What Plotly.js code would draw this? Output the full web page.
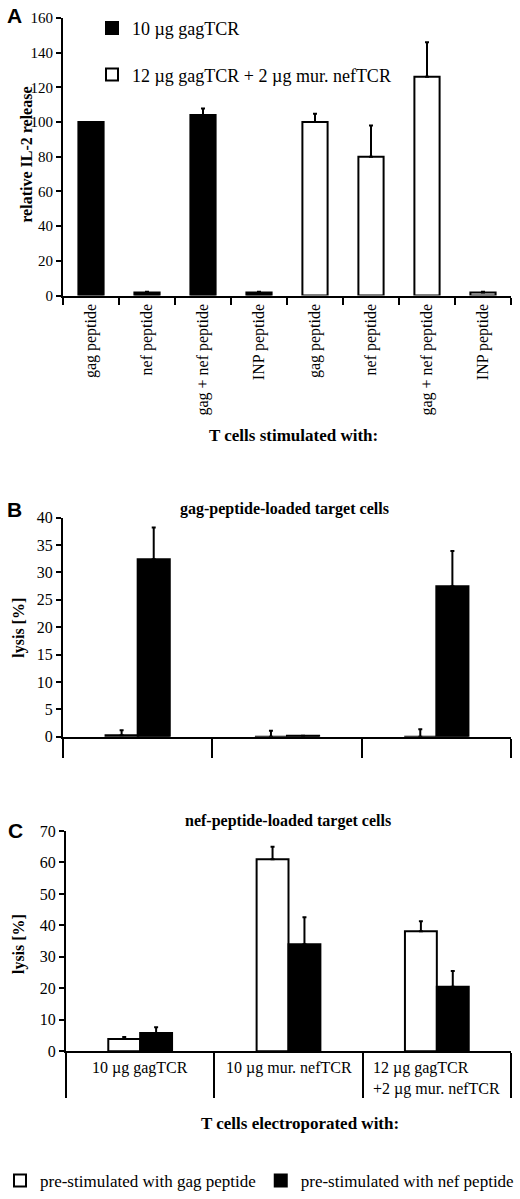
<!DOCTYPE html>
<html>
<head>
<meta charset="utf-8">
<script src="https://cdn.plot.ly/plotly-3.0.1.min.js"></script>
<style>body{margin:0;background:#fff}</style>
</head>
<body>
<div id="chart" style="width:520px;height:1199px"></div>
<script>
/** @type {typeof import("plotly.js-dist-min")} */
const Plotly = window.Plotly;

// panel A: IL-2 release
const stimLabels = ["gag peptide", "nef peptide", "gag + nef peptide", "INP peptide",
                    "gag peptide", "nef peptide", "gag + nef peptide", "INP peptide"];
const il2Gag = [100, 1.7, 104, 1.8];
const il2GagErr = [0, 0.4, 3.7, 0.4];
const il2Dual = [100, 80, 126, 1.8];
const il2DualErr = [4.7, 18, 20, 0.4];

// panels B and C: lysis
const tcrGroups = ["10 µg gagTCR", "10 µg mur. nefTCR", "12 µg gagTCR<br>+2 µg mur. nefTCR"];
const gagLysisGagStim = [0.3, 0, 0];
const gagLysisGagStimErr = [0.9, 1.1, 1.4];
const gagLysisNefStim = [32.4, 0.2, 27.5];
const gagLysisNefStimErr = [5.8, 0, 6.4];
const nefLysisGagStim = [3.9, 61, 38.1];
const nefLysisGagStimErr = [0.6, 4, 3.2];
const nefLysisNefStim = [5.8, 34, 20.5];
const nefLysisNefStimErr = [1.8, 8.6, 5];

const W = 520, H = 1199;
const px = x => x / W;
const py = y => 1 - y / H;
const serif = "Liberation Serif";

const stimPos = stimLabels.map((_, i) => i);
const groupPos = tcrGroups.map((_, i) => i);

function errUp(arr) {
    return {
        type: "data", symmetric: false, array: arr,
        arrayminus: arr.map(() => 0),
        color: "black", thickness: 2, width: 2
    };
}

const black = { color: "black", line: { color: "black", width: 2 } };
const white = { color: "white", line: { color: "black", width: 2 } };

const traces = [
    {
        type: "bar", name: "10 µg gagTCR", x: stimPos.slice(0, 4), y: il2Gag,
        error_y: errUp(il2GagErr), marker: black, width: 0.45,
        xaxis: "x", yaxis: "y", offsetgroup: "a", legendgroup: "a1"
    },
    {
        type: "bar", name: "12 µg gagTCR + 2 µg mur. nefTCR", x: stimPos.slice(4), y: il2Dual,
        error_y: errUp(il2DualErr), marker: white, width: 0.45,
        xaxis: "x", yaxis: "y", offsetgroup: "a", legendgroup: "a2"
    },
    {
        type: "bar", name: "pre-stimulated with gag peptide", x: groupPos, y: gagLysisGagStim,
        error_y: errUp(gagLysisGagStimErr), marker: white,
        xaxis: "x2", yaxis: "y2", showlegend: false
    },
    {
        type: "bar", name: "pre-stimulated with nef peptide", x: groupPos, y: gagLysisNefStim,
        error_y: errUp(gagLysisNefStimErr), marker: black,
        xaxis: "x2", yaxis: "y2", showlegend: false
    },
    {
        type: "bar", name: "pre-stimulated with gag peptide", x: groupPos, y: nefLysisGagStim,
        error_y: errUp(nefLysisGagStimErr), marker: white,
        xaxis: "x3", yaxis: "y3", legend: "legend2"
    },
    {
        type: "bar", name: "pre-stimulated with nef peptide", x: groupPos, y: nefLysisNefStim,
        error_y: errUp(nefLysisNefStimErr), marker: black,
        xaxis: "x3", yaxis: "y3", legend: "legend2"
    }
];

function yAx(domain, range, dtick, anchor) {
    return {
        domain: domain, range: range, dtick: dtick, anchor: anchor,
        showline: true, linecolor: "black", linewidth: 2,
        ticks: "outside", ticklen: 5, tickwidth: 2, tickcolor: "black",
        showgrid: false, zeroline: false,
        tickfont: { family: serif, size: 16, color: "black" }
    };
}

function xAx(domain, range, len, anchor) {
    return {
        domain: domain, range: range, anchor: anchor,
        showline: true, linecolor: "black", linewidth: 2,
        showgrid: false, zeroline: false, ticks: "", showticklabels: false,
        minor: { ticks: "outside", ticklen: len, tickwidth: 2, tickcolor: "black", tick0: 0.5, dtick: 1 }
    };
}

const yA = yAx([py(298), py(18)], [0, 160], 20, "x");
yA.tickfont.size = 15;
const yB = yAx([py(743), py(522)], [0, 40], 5, "x2");
const yC = yAx([py(1060), py(838)], [0, 70], 10, "x3");

const xA = xAx([px(63), px(511)], [-0.5, 7.5], 7, "y");
xA.showticklabels = true;
xA.tickmode = "array";
xA.tickvals = stimPos;
xA.ticktext = stimLabels;
xA.tickangle = -90;
xA.tickfont = { family: serif, size: 16, color: "black" };
const xB = xAx([px(63), px(511)], [-0.5, 2.5], 19, "y2");
const xC = xAx([px(66), px(511)], [-0.5, 2.5], 45, "y3");

const boldTitle = (text, x, y, size, angle) => ({
    text: "<b>" + text + "</b>", xref: "paper", yref: "paper", x: px(x), y: py(y),
    xanchor: "center", yanchor: "middle",
    showarrow: false, textangle: angle || 0,
    font: { family: serif, size: size, color: "black" }
});
const letter = (text, x, y) => ({
    text: "<b>" + text + "</b>", xref: "paper", yref: "paper", x: px(x), y: py(y),
    xanchor: "center", yanchor: "middle",
    showarrow: false, font: { family: "Liberation Sans", size: 21, color: "black" }
});

const annotations = [
    letter("A", 14, 16),
    letter("B", 14, 514),
    letter("C", 15, 837),
    boldTitle("relative IL-2 release", 27, 156, 16, -90),
    boldTitle("T cells stimulated with:", 293, 439, 17),
    boldTitle("gag-peptide-loaded target cells", 284, 513, 16),
    boldTitle("lysis [%]", 19, 633, 16, -90),
    boldTitle("nef-peptide-loaded target cells", 288, 828, 16),
    boldTitle("lysis [%]", 19, 952, 16, -90),
    boldTitle("T cells electroporated with:", 300, 1133, 17)
];

tcrGroups.forEach((g, i) => {
    annotations.push({
        text: g, xref: "x3", yref: "paper", x: groupPos[i], y: py(1066),
        xanchor: "center", yanchor: "top", align: "left", showarrow: false,
        font: { family: serif, size: 16, color: "black" }
    });
});

const layout = {
    width: W, height: H,
    margin: { l: 0, r: 0, t: 0, b: 0 },
    paper_bgcolor: "white", plot_bgcolor: "white",
    barmode: "group", bargap: 0.57, bargroupgap: 0,
    xaxis: xA, yaxis: yA,
    xaxis2: xB, yaxis2: yB,
    xaxis3: xC, yaxis3: yC,
    showlegend: true,
    legend: {
        x: px(92), y: py(10), xanchor: "left", yanchor: "top",
        font: { family: serif, size: 18, color: "black" },
        bgcolor: "rgba(0,0,0,0)", tracegroupgap: 20, traceorder: "grouped"
    },
    legend2: {
        orientation: "h", x: px(0), y: py(1173), xanchor: "left", yanchor: "top",
        font: { family: serif, size: 17, color: "black" },
        bgcolor: "rgba(0,0,0,0)"
    },
    annotations: annotations,
    font: { family: serif, color: "black" }
};

Plotly.newPlot("chart", traces, layout, { displayModeBar: false, staticPlot: true });
</script>
</body>
</html>
